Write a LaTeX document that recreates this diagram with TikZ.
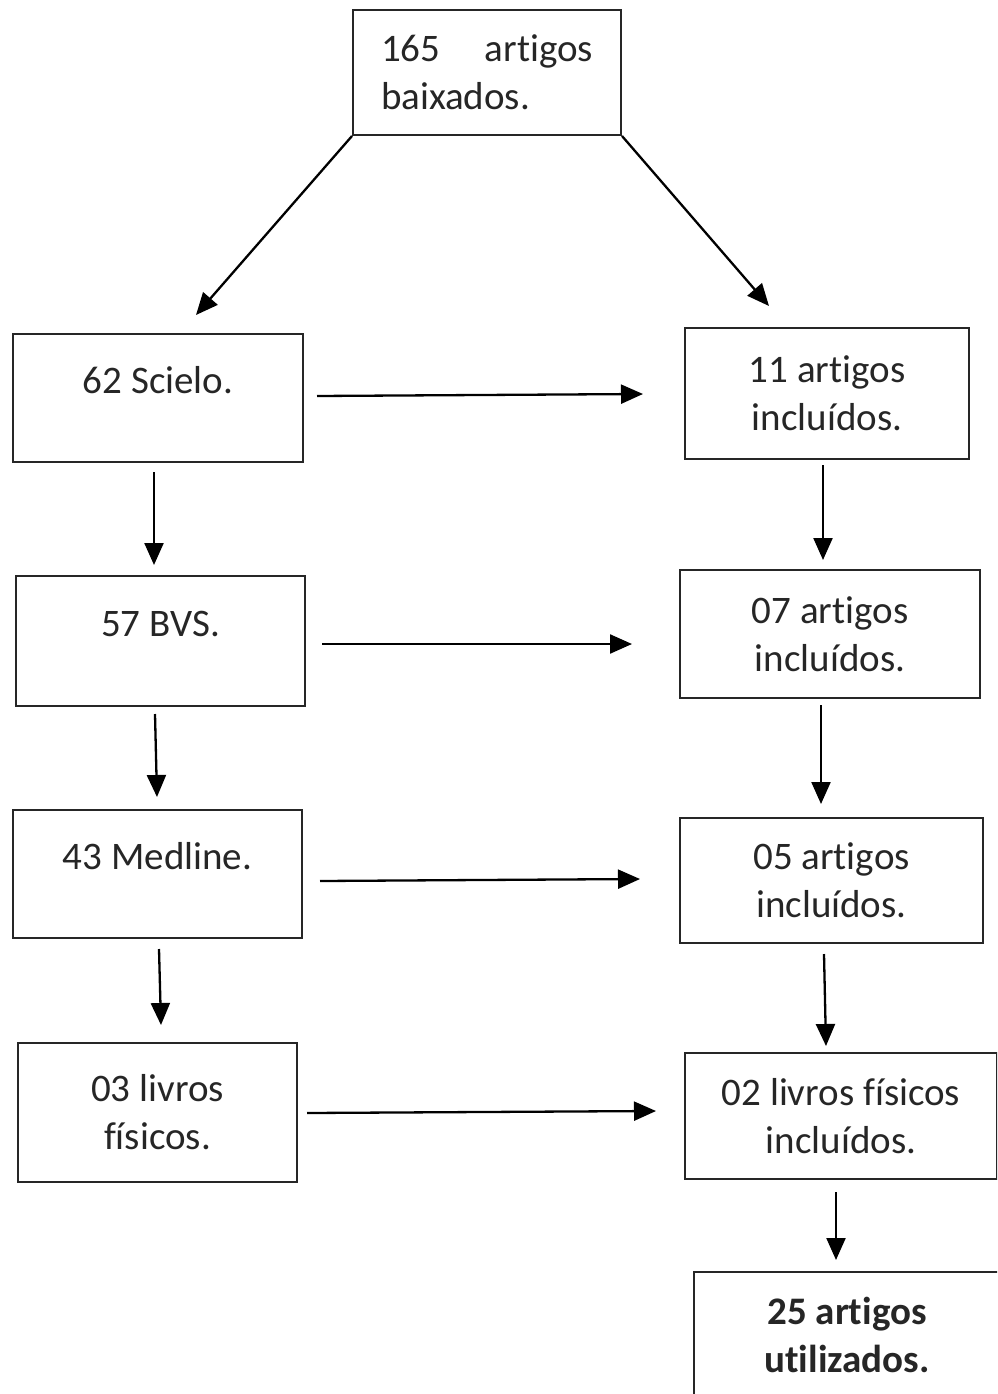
\documentclass[tikz,border=0pt]{standalone}
\usepackage{fontspec}
\setmainfont{Carlito}[Ligatures={NoCommon}]
\usetikzlibrary{arrows.meta,calc}
\newcommand{\tallstrut}{\rule{0pt}{38pt}}
\tikzset{
  box/.style={draw=black!85, line width=2pt, rectangle, inner sep=0pt, anchor=north west, align=center,
    font=\fontsize{39}{48}\selectfont, text=black!85},
  arr/.style={draw=black, line width=2.3pt, -{Triangle[length=22pt,width=19pt]}}
}
\begin{document}
\begin{tikzpicture}[x=1pt,y=-1pt]
\useasboundingbox (0,0) rectangle (997,1394);
\clip (0,0) rectangle (997,1394);
\node[box, minimum width=268pt, minimum height=125pt, align=left] (top) at (352,9) {\makebox[212pt][l]{165\hfill artigos}\\baixados.};
\node[box, minimum width=290pt, minimum height=128pt] (b1) at (12,333) {\tallstrut 62 Scielo.\\\mbox{}};
\node[box, minimum width=284pt, minimum height=131pt] (r1) at (684,327) {11 artigos\\incluídos.};
\node[box, minimum width=289pt, minimum height=130pt] (b2) at (15,575) {\tallstrut 57 BVS.\\\mbox{}};
\node[box, minimum width=300pt, minimum height=128pt] (r2) at (679,569) {07 artigos\\incluídos.};
\node[box, minimum width=289pt, minimum height=128pt] (b3) at (12,809) {\tallstrut 43 Medline.\\\mbox{}};
\node[box, minimum width=303pt, minimum height=125pt] (r3) at (679,817) {05 artigos\\incluídos.};
\node[box, minimum width=279pt, minimum height=139pt] (b4) at (17,1042) {03 livros\\físicos.};
\node[box, minimum width=312pt, minimum height=126pt] (r4) at (684,1052) {02 livros físicos\\incluídos.};
\node[box, minimum width=306pt, minimum height=126pt, font=\fontsize{39}{48}\selectfont\bfseries] (fin) at (693,1271) {25 artigos\\utilizados.};

\draw[arr] (top.south west) -- ($(b1.north)+(38,-18)$);
\draw[arr] (top.south east) -- ($(r1.north)+(-58,-21)$);
\draw[arr] ($(b1.east)+(13,-2)$) -- ($(r1.west)+(-41,0.5)$);
\draw[arr] ($(b1.south)+(-4,9)$) -- ($(b2.north)+(-6.5,-10)$);
\draw[arr] ($(r1.south)+(-4,5)$) -- ($(r2.north)+(-7,-9)$);
\draw[arr] ($(b2.east)+(16,3)$) -- ($(r2.west)+(-47,10)$);
\draw[arr] ($(b2.south)+(-5.5,7)$) -- ($(b3.north)+(-0.5,-12)$);
\draw[arr] ($(r2.south)+(-9,6)$) -- ($(r3.north)+(-10.5,-13)$);
\draw[arr] ($(b3.east)+(17,7)$) -- ($(r3.west)+(-39,-1.5)$);
\draw[arr] ($(b3.south)+(1.5,10)$) -- ($(b4.north)+(3.5,-17)$);
\draw[arr] ($(r3.south)+(-7.5,10)$) -- ($(r4.north)+(-15,-6)$);
\draw[arr] ($(b4.east)+(9,0.5)$) -- ($(r4.west)+(-28,-5)$);
\draw[arr] ($(r4.south)+(-5,12)$) -- ($(fin.north)+(-11,-11)$);
\end{tikzpicture}
\end{document}
